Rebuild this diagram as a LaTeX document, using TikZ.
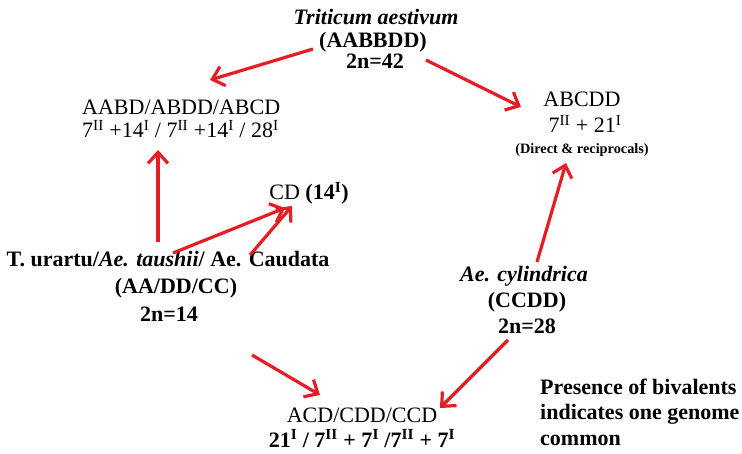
\documentclass[tikz,border=0pt]{standalone}
\usepackage{fontspec}
\setmainfont{Liberation Serif}
\usetikzlibrary{arrows.meta}
\definecolor{arrowred}{RGB}{228,30,36}
\begin{document}
\begin{tikzpicture}[x=1pt,y=-1pt,
  lbl/.style={inner sep=0pt, anchor=base, font=\fontsize{22}{26}\selectfont},
  bold/.style={lbl, font=\fontsize{22}{26}\selectfont\bfseries},
  small/.style={inner sep=0pt, anchor=base, font=\fontsize{14.3}{16}\selectfont\bfseries},
  arr/.style={draw=arrowred, line width=3.2pt, -{Straight Barb[length=11pt,width=20pt]}}]
\useasboundingbox (0,0) rectangle (742,454);

% hexaploid wheat
\node[bold] (ta1) at (376,25) {\itshape Triticum aestivum};
\node[bold] (ta2) at (373,48) {(AABBDD)};
\node[bold] (ta3) at (375,69) {2n=42};

% hybrids with wheat
\node[lbl, anchor=base west] (h1a) at (82,115) {AABD/ABDD/ABCD};
\node[lbl, anchor=base west] (h1b) at (82,138) {7\textsuperscript{II} +14\textsuperscript{I} / 7\textsuperscript{II} +14\textsuperscript{I} / 28\textsuperscript{I}};
\node[lbl] (h2a) at (582,107) {ABCDD};
\node[lbl] (h2b) at (585,133) {7\textsuperscript{II} + 21\textsuperscript{I}};
\node[small] (h2c) at (582,154) {(Direct \& reciprocals)};

% diploid cross
\node[lbl] (cd) at (309,200) {CD \textbf{(14\textsuperscript{I})}};

% diploid parents
\node[bold] (dp1) at (168,267) {T. urartu/\textit{Ae. taushii}/ Ae. Caudata};
\node[bold] (dp2) at (176,294) {(AA/DD/CC)};
\node[bold] (dp3) at (169,322) {2n=14};

% tetraploid Aegilops
\node[bold] (cy1) at (524,282) {\itshape Ae. cylindrica};
\node[bold] (cy2) at (527,308) {(CCDD)};
\node[bold] (cy3) at (527,334) {2n=28};

% triploid hybrids
\node[lbl] (h3a) at (362,422) {ACD/CDD/CCD};
\node[bold] (h3b) at (362,447) {21\textsuperscript{I} / 7\textsuperscript{II} + 7\textsuperscript{I} /7\textsuperscript{II} + 7\textsuperscript{I}};

% note
\node[bold, anchor=base west] (n1) at (540,395) {Presence of bivalents};
\node[bold, anchor=base west] (n2) at (540,420) {indicates one genome};
\node[bold, anchor=base west] (n3) at (540,445) {common};

% arrow ends
\coordinate (a1s) at (313,49);  \coordinate (a1e) at (210,80);
\coordinate (a2s) at (426,60);  \coordinate (a2e) at (521,107);
\coordinate (a3s) at (158,242); \coordinate (a3e) at (158,150);
\coordinate (a4s) at (173,253); \coordinate (a4e) at (285,208);
\coordinate (a5s) at (250,255); \coordinate (a5e) at (292,206);
\coordinate (a6s) at (537,262); \coordinate (a6e) at (566,163);
\coordinate (a7s) at (252,355); \coordinate (a7e) at (320,395);
\coordinate (a8s) at (508,340); \coordinate (a8e) at (440,408);

\foreach \k in {1,...,8}
  \draw[arr] (a\k s) -- (a\k e);
\end{tikzpicture}
\end{document}
